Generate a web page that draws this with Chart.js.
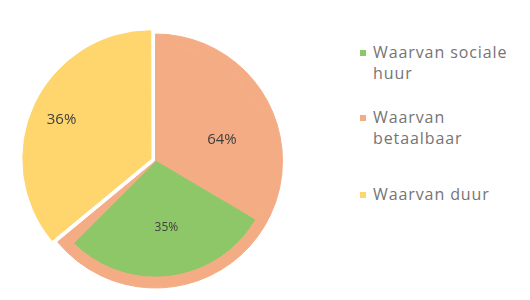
<!DOCTYPE html>
<html>
<head>
<meta charset="utf-8">
<script src="https://cdn.jsdelivr.net/npm/chart.js@4/dist/chart.umd.min.js"></script>
<style>
  body { margin: 0; background: #fff; }
  #wrap { position: relative; width: 530px; height: 300px; overflow: hidden; }
  #pie { position: absolute; left: 0; top: 0; }
  #legend { position: absolute; left: 360px; top: 0; font-family: "Open Sans", sans-serif; font-size: 16px; letter-spacing: 0.9px; color: #777373; }
  .item { position: absolute; left: 0; width: 170px; line-height: 21px; }
  .item i { position: absolute; left: 0; top: 8px; width: 6px; height: 6px; }
  .item span { display: block; margin-left: 13px; }
</style>
</head>
<body>
<div id="wrap">
  <canvas id="pie" width="310" height="300"></canvas>
  <div id="legend"></div>
</div>
<script>
// Outer ring: the full pie (betaalbaar / duur)
const outerLabels = ['Waarvan betaalbaar', 'Waarvan duur'];
const outerValues = [64, 36];
const outerColors = ['#F4AC84', '#FFD56E'];

// Inner ring: the same pie, with the social-rent share inside the betaalbaar slice
const innerLabels = ['Waarvan betaalbaar', 'Waarvan sociale huur', 'Waarvan betaalbaar', 'Waarvan duur'];
const innerValues = [33.5, 29, 1.5, 36];
const innerColors = ['#F4AC84', '#8DC768', '#F4AC84', '#FFD56E'];
const innerText = ['64%', '35%', '', '36%'];

// Legend entries
const legendLabels = ['Waarvan sociale<br>huur', 'Waarvan<br>betaalbaar', 'Waarvan duur'];
const legendColors = ['#8DC768', '#F4AC84', '#FFD56E'];
const legendTops = [42, 107, 184];

// tekst op de taartpunten
const sliceText = {
    id: 'sliceText',
    afterDatasetsDraw(chart, args, opts) {
        const c = chart.ctx;
        const meta = chart.getDatasetMeta(1);
        meta.data.forEach((arc, i) => {
            const txt = innerText[i];
            if (!txt) return;
            const p = arc.getProps(['x', 'y', 'startAngle', 'endAngle', 'outerRadius']);
            const pl = opts.place[i];
            const a = p.startAngle + (p.endAngle - p.startAngle) * pl.a;
            const r = p.outerRadius * pl.r;
            c.save();
            c.font = pl.size + 'px "Open Sans", sans-serif';
            c.fillStyle = '#404040';
            c.textAlign = 'center';
            c.textBaseline = 'middle';
            c.fillText(txt, p.x + Math.cos(a) * r, p.y + Math.sin(a) * r);
            c.restore();
        });
    }
};

const ctx = document.getElementById('pie').getContext('2d');
new Chart(ctx, {
    type: 'pie',
    data: {
        labels: innerLabels,
        datasets: [{
            data: outerValues,
            backgroundColor: outerColors,
            borderColor: outerColors,
            borderWidth: 1,
            offset: [0, 20],
            weight: 1
        }, {
            data: innerValues,
            backgroundColor: innerColors,
            borderColor: innerColors,
            borderWidth: 1,
            offset: [0, 0, 0, 20],
            weight: 10.7
        }]
    },
    options: {
        responsive: false,
        animation: false,
        layout: { padding: { left: 18, right: 17, top: 23.5, bottom: 1.5 } },
        plugins: {
            legend: { display: false },
            tooltip: { enabled: false },
            sliceText: {
                place: [
                    { a: 0.6, r: 0.6, size: 15 },
                    { a: 0.48, r: 0.58, size: 12 },
                    null,
                    { a: 0.49, r: 0.885, size: 15 }
                ]
            }
        }
    },
    plugins: [sliceText]
});

// legenda
const legend = document.getElementById('legend');
legendLabels.forEach((lbl, i) => {
    const d = document.createElement('div');
    d.className = 'item';
    d.style.top = legendTops[i] + 'px';
    d.innerHTML = '<i style="background:' + legendColors[i] + '"></i><span>' + lbl + '</span>';
    legend.appendChild(d);
});
</script>
</body>
</html>
